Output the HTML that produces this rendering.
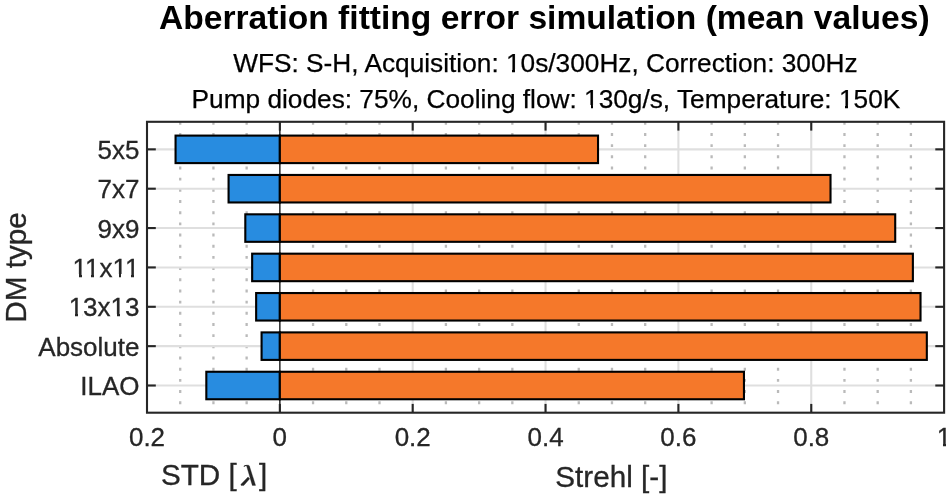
<!DOCTYPE html>
<html><head><meta charset="utf-8"><title>Aberration fitting error simulation</title>
<style>html,body{margin:0;padding:0;background:#fff;}body{width:951px;height:497px;overflow:hidden;}svg{display:block;will-change:transform;}text{font-family:"Liberation Sans",sans-serif;}</style></head><body>
<svg width="951" height="497" viewBox="0 0 951 497">
<rect x="0" y="0" width="951" height="497" fill="#ffffff"/>
<g stroke="#bababa" stroke-width="2.3" stroke-dasharray="2.9 8.28" stroke-dashoffset="0">
<line x1="180.21" y1="121.80" x2="180.21" y2="412.70"/>
<line x1="213.43" y1="121.80" x2="213.43" y2="412.70"/>
<line x1="246.64" y1="121.80" x2="246.64" y2="412.70"/>
<line x1="313.06" y1="121.80" x2="313.06" y2="412.70"/>
<line x1="346.28" y1="121.80" x2="346.28" y2="412.70"/>
<line x1="379.49" y1="121.80" x2="379.49" y2="412.70"/>
<line x1="445.91" y1="121.80" x2="445.91" y2="412.70"/>
<line x1="479.13" y1="121.80" x2="479.13" y2="412.70"/>
<line x1="512.34" y1="121.80" x2="512.34" y2="412.70"/>
<line x1="578.76" y1="121.80" x2="578.76" y2="412.70"/>
<line x1="611.98" y1="121.80" x2="611.98" y2="412.70"/>
<line x1="645.19" y1="121.80" x2="645.19" y2="412.70"/>
<line x1="711.61" y1="121.80" x2="711.61" y2="412.70"/>
<line x1="744.83" y1="121.80" x2="744.83" y2="412.70"/>
<line x1="778.04" y1="121.80" x2="778.04" y2="412.70"/>
<line x1="844.46" y1="121.80" x2="844.46" y2="412.70"/>
<line x1="877.68" y1="121.80" x2="877.68" y2="412.70"/>
<line x1="910.89" y1="121.80" x2="910.89" y2="412.70"/>
</g>
<g stroke="#dfdfdf" stroke-width="2.1">
<line x1="412.70" y1="121.80" x2="412.70" y2="412.70"/>
<line x1="545.55" y1="121.80" x2="545.55" y2="412.70"/>
<line x1="678.40" y1="121.80" x2="678.40" y2="412.70"/>
<line x1="811.25" y1="121.80" x2="811.25" y2="412.70"/>
<line x1="147.00" y1="149.35" x2="944.10" y2="149.35"/>
<line x1="147.00" y1="188.71" x2="944.10" y2="188.71"/>
<line x1="147.00" y1="228.07" x2="944.10" y2="228.07"/>
<line x1="147.00" y1="267.43" x2="944.10" y2="267.43"/>
<line x1="147.00" y1="306.79" x2="944.10" y2="306.79"/>
<line x1="147.00" y1="346.15" x2="944.10" y2="346.15"/>
<line x1="147.00" y1="385.51" x2="944.10" y2="385.51"/>
</g>
<line x1="279.85" y1="121.80" x2="279.85" y2="412.70" stroke="#262626" stroke-width="1.5"/>
<g stroke="#000000" stroke-width="2.1" stroke-linejoin="miter">
<rect x="175.56" y="135.60" width="104.29" height="27.50" fill="#288ce0"/>
<rect x="279.85" y="135.60" width="318.18" height="27.50" fill="#f5782a"/>
<rect x="228.57" y="174.96" width="51.28" height="27.50" fill="#288ce0"/>
<rect x="279.85" y="174.96" width="550.66" height="27.50" fill="#f5782a"/>
<rect x="245.31" y="214.32" width="34.54" height="27.50" fill="#288ce0"/>
<rect x="279.85" y="214.32" width="615.36" height="27.50" fill="#f5782a"/>
<rect x="252.15" y="253.68" width="27.70" height="27.50" fill="#288ce0"/>
<rect x="279.85" y="253.68" width="633.03" height="27.50" fill="#f5782a"/>
<rect x="256.14" y="293.04" width="23.71" height="27.50" fill="#288ce0"/>
<rect x="279.85" y="293.04" width="640.67" height="27.50" fill="#f5782a"/>
<rect x="261.58" y="332.40" width="18.27" height="27.50" fill="#288ce0"/>
<rect x="279.85" y="332.40" width="646.98" height="27.50" fill="#f5782a"/>
<rect x="206.32" y="371.76" width="73.53" height="27.50" fill="#288ce0"/>
<rect x="279.85" y="371.76" width="464.11" height="27.50" fill="#f5782a"/>
</g>
<g stroke="#262626" stroke-width="2.1">
<line x1="279.85" y1="121.80" x2="279.85" y2="130.60"/>
<line x1="279.85" y1="412.70" x2="279.85" y2="403.90"/>
<line x1="412.70" y1="121.80" x2="412.70" y2="130.60"/>
<line x1="412.70" y1="412.70" x2="412.70" y2="403.90"/>
<line x1="545.55" y1="121.80" x2="545.55" y2="130.60"/>
<line x1="545.55" y1="412.70" x2="545.55" y2="403.90"/>
<line x1="678.40" y1="121.80" x2="678.40" y2="130.60"/>
<line x1="678.40" y1="412.70" x2="678.40" y2="403.90"/>
<line x1="811.25" y1="121.80" x2="811.25" y2="130.60"/>
<line x1="811.25" y1="412.70" x2="811.25" y2="403.90"/>
<line x1="147.00" y1="149.35" x2="155.80" y2="149.35"/>
<line x1="944.10" y1="149.35" x2="935.30" y2="149.35"/>
<line x1="147.00" y1="188.71" x2="155.80" y2="188.71"/>
<line x1="944.10" y1="188.71" x2="935.30" y2="188.71"/>
<line x1="147.00" y1="228.07" x2="155.80" y2="228.07"/>
<line x1="944.10" y1="228.07" x2="935.30" y2="228.07"/>
<line x1="147.00" y1="267.43" x2="155.80" y2="267.43"/>
<line x1="944.10" y1="267.43" x2="935.30" y2="267.43"/>
<line x1="147.00" y1="306.79" x2="155.80" y2="306.79"/>
<line x1="944.10" y1="306.79" x2="935.30" y2="306.79"/>
<line x1="147.00" y1="346.15" x2="155.80" y2="346.15"/>
<line x1="944.10" y1="346.15" x2="935.30" y2="346.15"/>
<line x1="147.00" y1="385.51" x2="155.80" y2="385.51"/>
<line x1="944.10" y1="385.51" x2="935.30" y2="385.51"/>
</g>
<rect x="147.00" y="121.80" width="797.10" height="290.90" fill="none" stroke="#262626" stroke-width="2.1"/>
<text x="544.3" y="29.45" font-size="33.6" font-weight="bold" text-anchor="middle" fill="#000">Aberration fitting error simulation (mean values)</text>
<text x="545.4" y="71.9" font-size="26.25" text-anchor="middle" fill="#000" stroke="#000" stroke-width="0.25">WFS: S-H, Acquisition: 10s/300Hz, Correction: 300Hz</text>
<text x="545.9" y="107.6" font-size="26.25" text-anchor="middle" fill="#000" stroke="#000" stroke-width="0.25">Pump diodes: 75%, Cooling flow: 130g/s, Temperature: 150K</text>
<g font-size="26" fill="#262626" stroke="#262626" stroke-width="0.3">
<text transform="translate(139.5,159.05) scale(1,1.023)" text-anchor="end">5x5</text>
<text transform="translate(139.5,198.41) scale(1,1.023)" text-anchor="end">7x7</text>
<text transform="translate(139.5,237.77) scale(1,1.023)" text-anchor="end">9x9</text>
<text transform="translate(139.5,277.13) scale(1,1.023)" text-anchor="end">11x11</text>
<text transform="translate(139.5,316.49) scale(1,1.023)" text-anchor="end">13x13</text>
<text transform="translate(139.5,355.85) scale(1,1.023)" text-anchor="end">Absolute</text>
<text transform="translate(139.5,395.21) scale(1,1.023)" text-anchor="end">ILAO</text>
<text transform="translate(147.00,446) scale(1,1.023)" text-anchor="middle">0.2</text>
<text transform="translate(279.85,446) scale(1,1.023)" text-anchor="middle">0</text>
<text transform="translate(412.70,446) scale(1,1.023)" text-anchor="middle">0.2</text>
<text transform="translate(545.55,446) scale(1,1.023)" text-anchor="middle">0.4</text>
<text transform="translate(678.40,446) scale(1,1.023)" text-anchor="middle">0.6</text>
<text transform="translate(811.25,446) scale(1,1.023)" text-anchor="middle">0.8</text>
<text transform="translate(944.10,446) scale(1,1.023)" text-anchor="middle">1</text>
</g>
<g font-size="29.7" fill="#262626" stroke="#262626" stroke-width="0.3">
<text x="611.4" y="486.9" text-anchor="middle">Strehl [-]</text>
<text x="160.9" y="485.3">STD [</text>
<text x="258.9" y="485.3">]</text>
<g fill="#262626" stroke="#262626" stroke-width="0.3" stroke-linejoin="round"><path d="M246.3,465.0 L248.4,465.2 Q249.2,465.4 249.5,466.3 L255.6,485.4 L252.3,485.4 Z"/><path d="M248.0,477.0 L249.7,478.8 L243.8,485.4 L241.1,485.4 Q240.5,484.6 241.2,483.9 Z"/><path d="M244.2,466.3 Q244.9,465.2 246.4,465.5" fill="none" stroke-width="1.1" stroke-linecap="round"/></g>
<text transform="translate(25.9,267.4) rotate(-90)" text-anchor="middle">DM type</text>
</g>
<g fill="#ffffff" shape-rendering="crispEdges"><rect x="507.19" y="68.94" width="5.21" height="4.66"/><rect x="515.02" y="68.94" width="4.85" height="4.66"/><rect x="585.29" y="104.64" width="5.21" height="4.66"/><rect x="593.13" y="104.64" width="4.85" height="4.66"/><rect x="840.17" y="104.64" width="5.21" height="4.66"/><rect x="848.00" y="104.64" width="4.85" height="4.66"/><rect x="73.74" y="274.14" width="5.17" height="4.69"/><rect x="81.51" y="274.14" width="4.80" height="4.69"/><rect x="86.27" y="274.14" width="5.17" height="4.69"/><rect x="94.04" y="274.14" width="4.80" height="4.69"/><rect x="113.72" y="274.14" width="5.17" height="4.69"/><rect x="121.48" y="274.14" width="4.80" height="4.69"/><rect x="126.25" y="274.14" width="5.17" height="4.69"/><rect x="134.01" y="274.14" width="4.80" height="4.69"/><rect x="69.88" y="313.50" width="5.17" height="4.69"/><rect x="77.65" y="313.50" width="4.80" height="4.69"/><rect x="111.79" y="313.50" width="5.17" height="4.69"/><rect x="119.55" y="313.50" width="4.80" height="4.69"/><rect x="938.08" y="443.01" width="5.17" height="4.69"/><rect x="945.85" y="443.01" width="4.81" height="4.69"/></g>
</svg></body></html>
